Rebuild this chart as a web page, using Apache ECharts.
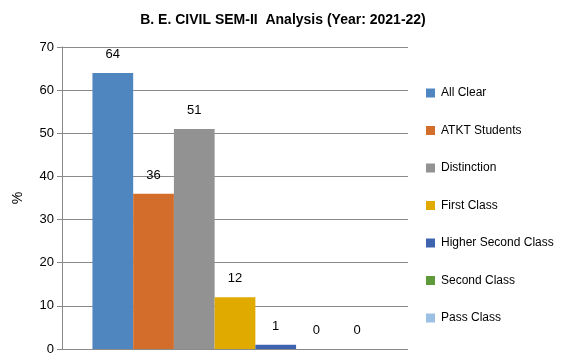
<!DOCTYPE html>
<html><head><meta charset="utf-8">
<script src="https://cdn.jsdelivr.net/npm/echarts@6/dist/echarts.min.js"></script>
<style>html,body{margin:0;padding:0;background:#fff}#c{width:566px;height:363px}</style>
</head><body><div id="c"></div>
<script>
const categories = ['All Clear','ATKT Students','Distinction','First Class','Higher Second Class','Second Class','Pass Class'];
const values = [64, 36, 51, 12, 1, 0, 0];
const yTicks = [0,10,20,30,40,50,60,70];
const colors = ['#4F86C0','#D36D2B','#929292','#E1AA00','#3E64B0','#5E9A3A','#9CC0E4'];
const FONT = 'Liberation Sans';
const chart = echarts.init(document.getElementById('c'), null, {renderer:'canvas'});
chart.setOption({
  animation:false,
  textStyle:{fontFamily:FONT},
  title:{text:'B. E. CIVIL SEM-II  Analysis (Year: 2021-22)', left:'center', top:8,
    textStyle:{fontFamily:FONT, fontSize:14, fontWeight:'bold', color:'#000'}},
  legend:{orient:'vertical', left:421, top:82, itemWidth:9, itemHeight:9, itemGap:25.5,
    icon:'rect', textStyle:{fontFamily:FONT, fontSize:12, color:'#000', padding:[0,0,0,1]},
    data:categories},
  grid:{left:62, right:158, top:47, bottom:14, containLabel:false},
  xAxis:{type:'category', data:[''], axisLine:{show:false}, axisTick:{show:false}, axisLabel:{show:false}},
  yAxis:{type:'value', min:yTicks[0], max:yTicks[yTicks.length-1], interval:10,
    name:'%', nameLocation:'middle', nameGap:37, nameRotate:90,
    nameTextStyle:{fontFamily:FONT, fontSize:14, color:'#000'},
    axisLine:{show:true, lineStyle:{color:'#888'}},
    axisTick:{show:true, length:5, lineStyle:{color:'#888'}},
    axisLabel:{fontFamily:FONT, fontSize:13, color:'#000', margin:8},
    splitLine:{lineStyle:{color:'#8a8a8a'}}},
  series: categories.map((name,i)=>({
    name, type:'bar', data:[values[i]], barGap:'0%', barCategoryGap:'17.6%',
    itemStyle:{color:colors[i]},
    label:{show:true, position:'top', distance:12, fontFamily:FONT, fontSize:13, color:'#000'}
  }))
});
</script></body></html>
